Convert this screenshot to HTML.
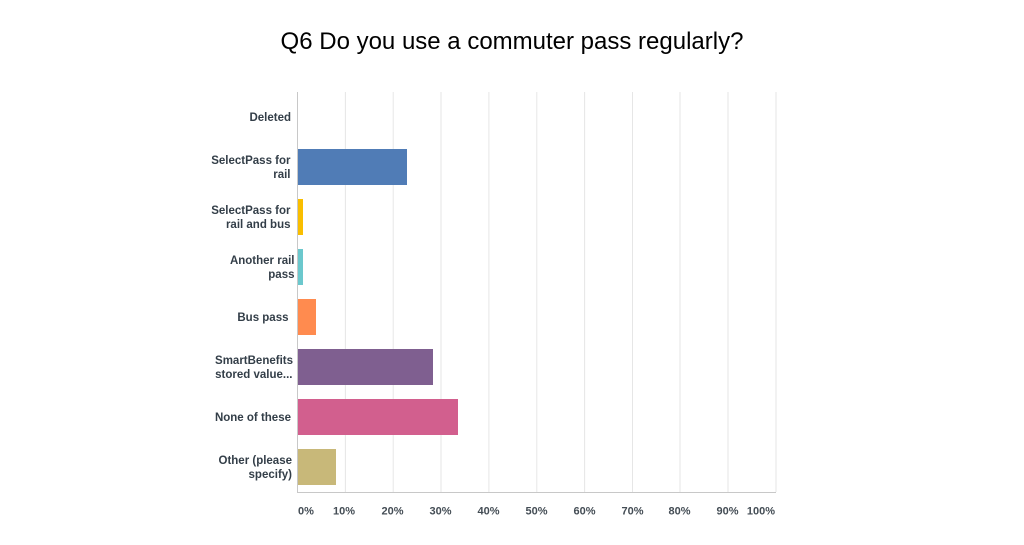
<!DOCTYPE html>
<html><head><meta charset="utf-8"><style>
html,body{margin:0;padding:0;background:#fff;}
body{width:1024px;height:545px;overflow:hidden;}
svg{display:block;}
.t{font-family:"Liberation Sans",Arial,sans-serif;}
.lab{font-family:"Liberation Sans",Arial,sans-serif;font-weight:bold;font-size:11.5px;fill:#333e48;text-anchor:end;}
.tick{font-family:"Liberation Sans",Arial,sans-serif;font-weight:bold;font-size:11px;fill:#444d55;text-anchor:middle;}
</style></head><body>
<svg width="1024" height="545" viewBox="0 0 1024 545" xmlns="http://www.w3.org/2000/svg">
<rect width="1024" height="545" fill="#fff"/>
<text class="t" x="512" y="49" font-size="24" fill="#000" text-anchor="middle">Q6 Do you use a commuter pass regularly?</text>
<!-- gridlines -->
<g stroke="#e6e6e6" stroke-width="1">
<line x1="345.4" y1="92" x2="345.4" y2="492"/>
<line x1="393.2" y1="92" x2="393.2" y2="492"/>
<line x1="441" y1="92" x2="441" y2="492"/>
<line x1="488.9" y1="92" x2="488.9" y2="492"/>
<line x1="536.8" y1="92" x2="536.8" y2="492"/>
<line x1="584.6" y1="92" x2="584.6" y2="492"/>
<line x1="632.5" y1="92" x2="632.5" y2="492"/>
<line x1="680" y1="92" x2="680" y2="492"/>
<line x1="728" y1="92" x2="728" y2="492"/>
<line x1="776" y1="92" x2="776" y2="492"/>
</g>
<!-- bars -->
<rect x="298" y="149" width="109" height="36" fill="#507cb6"/>
<rect x="298" y="199" width="5" height="36" fill="#f9be00"/>
<rect x="298" y="249" width="5" height="36" fill="#6bc8cd"/>
<rect x="298" y="299" width="18" height="36" fill="#ff8b4f"/>
<rect x="298" y="349" width="135" height="36" fill="#7f5f90"/>
<rect x="298" y="399" width="160" height="36" fill="#d25f8e"/>
<rect x="298" y="449" width="38" height="36" fill="#c8b879"/>
<!-- axes -->
<line x1="297.5" y1="92" x2="297.5" y2="492.5" stroke="#c8c8c8" stroke-width="1"/>
<line x1="297" y1="492.5" x2="776" y2="492.5" stroke="#c8c8c8" stroke-width="1"/>
<!-- category labels -->
<text class="lab" x="291" y="121">Deleted</text>
<text class="lab" x="290.5" y="164">SelectPass for</text>
<text class="lab" x="290.5" y="178">rail</text>
<text class="lab" x="290.5" y="214">SelectPass for</text>
<text class="lab" x="290.5" y="228">rail and bus</text>
<text class="lab" x="294.5" y="264">Another rail</text>
<text class="lab" x="294.5" y="278">pass</text>
<text class="lab" x="288.5" y="321">Bus pass</text>
<text class="lab" x="293" y="364">SmartBenefits</text>
<text class="lab" x="292.5" y="378">stored value...</text>
<text class="lab" x="291" y="421">None of these</text>
<text class="lab" x="292" y="464">Other (please</text>
<text class="lab" x="292" y="478">specify)</text>
<!-- ticks -->
<text class="tick" x="298" y="514.5" style="text-anchor:start">0%</text>
<text class="tick" x="344" y="514.5">10%</text>
<text class="tick" x="392.5" y="514.5">20%</text>
<text class="tick" x="440.5" y="514.5">30%</text>
<text class="tick" x="488.5" y="514.5">40%</text>
<text class="tick" x="536.5" y="514.5">50%</text>
<text class="tick" x="584.5" y="514.5">60%</text>
<text class="tick" x="632.5" y="514.5">70%</text>
<text class="tick" x="679.5" y="514.5">80%</text>
<text class="tick" x="727.5" y="514.5">90%</text>
<text class="tick" x="775" y="514.5" style="text-anchor:end">100%</text>
</svg>
</body></html>
